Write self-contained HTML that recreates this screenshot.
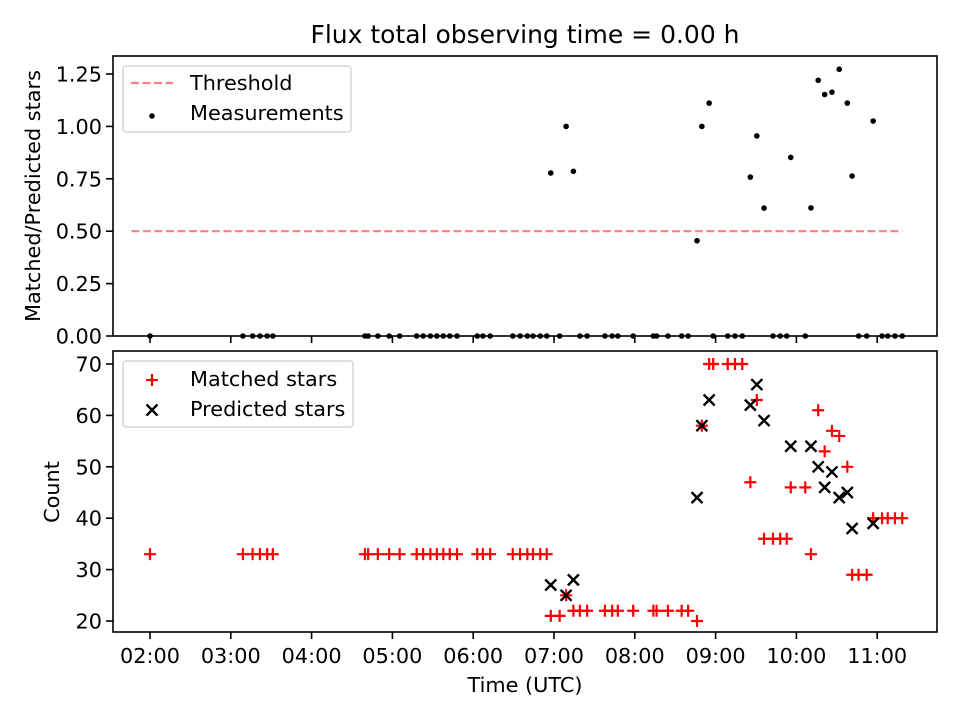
<!DOCTYPE html>
<html><head><meta charset="utf-8"><style>
body{margin:0;background:#fff;}
svg{display:block;font-family:"DejaVu Sans","Liberation Sans",sans-serif;}
</style></head><body>
<svg id="chart" width="960" height="720" viewBox="0 0 960 720"></svg>
<script>
const times=[2.00,3.15,3.27,3.36,3.45,3.52,4.66,4.70,4.82,4.96,5.09,5.30,5.38,5.47,5.55,5.63,5.71,5.80,6.05,6.12,6.21,6.49,6.58,6.67,6.74,6.83,6.91,6.96,7.07,7.15,7.24,7.32,7.41,7.63,7.72,7.79,7.98,8.23,8.27,8.41,8.58,8.66,8.77,8.83,8.92,8.97,9.15,9.24,9.33,9.43,9.51,9.60,9.71,9.80,9.88,9.93,10.11,10.18,10.27,10.35,10.44,10.53,10.63,10.69,10.77,10.87,10.95,11.06,11.13,11.22,11.31];
const matched=[33,33,33,33,33,33,33,33,33,33,33,33,33,33,33,33,33,33,33,33,33,33,33,33,33,33,33,21,21,25,22,22,22,22,22,22,22,22,22,22,22,22,20,58,70,70,70,70,70,47,63,36,36,36,36,46,46,33,61,53,57,56,50,29,29,29,40,40,40,40,40];
const predicted=[null,null,null,null,null,null,null,null,null,null,null,null,null,null,null,null,null,null,null,null,null,null,null,null,null,null,null,27,null,25,28,null,null,null,null,null,null,null,null,null,null,null,44,58,63,null,null,null,null,62,66,59,null,null,null,54,null,54,50,46,49,44,45,38,null,null,39,null,null,null,null];
const threshold=0.5;
const xTicks=[2,3,4,5,6,7,8,9,10,11];
const yTopTicks=[0,0.25,0.5,0.75,1.0,1.25];
const yBotTicks=[20,30,40,50,60,70];

const NS="http://www.w3.org/2000/svg";
const svg=document.getElementById('chart');
function mk(tag,attrs,parent){const e=document.createElementNS(NS,tag);for(const k in attrs)e.setAttribute(k,attrs[k]);(parent||svg).appendChild(e);return e;}
const L=113,R=937,T1=56,B1=336,T2=351,B2=632;
const FS=20.8;
const xs=h=>150+(h-2)*80.8;
const y1=v=>336-v*209.6;
const y2=v=>364+(70-v)*5.14;

function txt(s,x,y,anchor,size,name,rot){const t=mk('text',{x:x,y:y,'text-anchor':anchor,'font-size':size,fill:'#000'});t.textContent=s;if(rot)t.setAttribute('transform','rotate(-90 '+x+' '+y+')');return t;}

txt('Flux total observing time = 0.00 h',525,43,'middle',25,'chart-title');

const gTop=mk('g',{});


const th=mk('line',{x1:xs(1.77),x2:xs(11.31),y1:y1(threshold),y2:y1(threshold),stroke:'#ff7f7f','stroke-width':2.2,'stroke-dasharray':'8,3.5'},gTop);


times.forEach((t,i)=>{const r=predicted[i]?matched[i]/predicted[i]:0;const c=mk('circle',{cx:xs(t),cy:y1(r),r:2.8,fill:'#000'},gTop);

});
yTopTicks.forEach(v=>{mk('line',{x1:L-7,x2:L,y1:y1(v),y2:y1(v),stroke:'#000','stroke-width':1.6},gTop);txt(v.toFixed(2),L-11,y1(v)+7.5,'end',FS,'y-tick-label');});
xTicks.forEach(h=>{mk('line',{x1:xs(h),x2:xs(h),y1:B1,y2:B1+7,stroke:'#000','stroke-width':1.6},gTop);});
mk('rect',{x:L,y:T1,width:R-L,height:B1-T1,fill:'none',stroke:'#000','stroke-width':1.6},gTop);
txt('Matched/Predicted stars',40,196,'middle',FS,'y-axis-title-top',true);
const lg1=mk('g',{});


mk('rect',{x:123,y:66,width:228,height:66,rx:3,fill:'#fff',stroke:'#ccc','stroke-width':1.2},lg1);
mk('line',{x1:131,x2:173,y1:83,y2:83,stroke:'#ff7f7f','stroke-width':2.2,'stroke-dasharray':'8,3.5'},lg1);
lg1.appendChild(txt('Threshold',190,90,'start',FS,'legend-entry-threshold'));
mk('circle',{cx:152,cy:116,r:2.8,fill:'#000'},lg1);
lg1.appendChild(txt('Measurements',190,120,'start',FS,'legend-entry-measurements'));

const gB=mk('g',{});


function plus(x,y,p){mk('path',{d:`M${x-6} ${y}H${x+6}M${x} ${y-6}V${y+6}`,stroke:'#ff0000','stroke-width':2.2},p);}
function cross(x,y,p){mk('path',{d:`M${x-5.5} ${y-5.5}L${x+5.5} ${y+5.5}M${x-5.5} ${y+5.5}L${x+5.5} ${y-5.5}`,stroke:'#000','stroke-width':2.4},p);}
times.forEach((t,i)=>{const g=mk('g',{},gB);


plus(xs(t),y2(matched[i]),g);});
times.forEach((t,i)=>{if(predicted[i]==null)return;const g=mk('g',{},gB);


cross(xs(t),y2(predicted[i]),g);});
yBotTicks.forEach(v=>{mk('line',{x1:L-7,x2:L,y1:y2(v),y2:y2(v),stroke:'#000','stroke-width':1.6},gB);txt(String(v),L-11,y2(v)+7.5,'end',FS,'y-tick-label');});
xTicks.forEach(h=>{mk('line',{x1:xs(h),x2:xs(h),y1:B2,y2:B2+7,stroke:'#000','stroke-width':1.6},gB);txt(String(h).padStart(2,'0')+':00',xs(h),663,'middle',FS,'x-tick-label');});
mk('rect',{x:L,y:T2,width:R-L,height:B2-T2,fill:'none',stroke:'#000','stroke-width':1.6},gB);
txt('Count',59,492,'middle',FS,'y-axis-title-bottom',true);
txt('Time (UTC)',525,692,'middle',FS,'x-axis-title');
const lg2=mk('g',{});


mk('rect',{x:123,y:361,width:230,height:66,rx:3,fill:'#fff',stroke:'#ccc','stroke-width':1.2},lg2);
plus(152,380,lg2);
lg2.appendChild(txt('Matched stars',190,386,'start',FS,'legend-entry-matched'));
cross(152,410,lg2);
lg2.appendChild(txt('Predicted stars',190,416,'start',FS,'legend-entry-predicted'));
</script>
</body></html>
